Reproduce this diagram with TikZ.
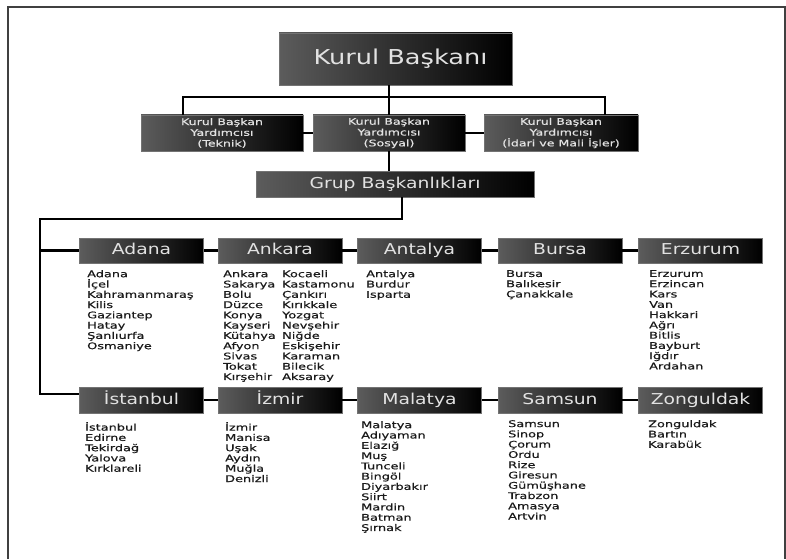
\documentclass[tikz,border=0pt]{standalone}
\usepackage{fontspec}
\setmainfont{DejaVu Sans}[FakeStretch=1.25]
\newfontfamily\listfont{DejaVu Sans}[FakeStretch=1.4,FakeBold=0.6]
\definecolor{boxgray}{HTML}{5C5C5C}
\definecolor{boxtext}{HTML}{E2E2E2}
\definecolor{listtext}{HTML}{1A1A1A}
\tikzset{
  orgbox/.style={draw=black!55, line width=0.6pt, left color=boxgray, right color=black,
    text=boxtext, inner sep=0pt},
  region/.style={orgbox, minimum width=124pt, text height=11pt, text depth=3pt,
    font=\fontsize{15}{18}\selectfont},
  vice/.style={orgbox, minimum width=155pt, minimum height=36pt, align=center,
    font=\listfont\fontsize{9}{10.8}\selectfont},
  liste/.style={anchor=north west, align=left, inner sep=0pt, text=listtext,
    font=\listfont\fontsize{9.2}{10.28}\selectfont},
  link/.style={line width=2.6pt, black}
}
\begin{document}
\begin{tikzpicture}[x=1pt,y=-1pt]
    \useasboundingbox (0,0) rectangle (786,559);
    \draw[black!75, line width=1.2pt] (8,559) -- (8,7) -- (785,7) -- (785,559);

    \begin{scope}
        \node[orgbox, minimum width=233pt, minimum height=52pt,
              font=\fontsize{20.5}{24}\selectfont] (kb) at (395.5,59) {\hspace{10pt}Kurul Başkanı};
        \node[vice, minimum width=162pt] (kby1) at (222,133) {Kurul Başkan\\Yardımcısı\\(Teknik)};
        \node[vice, minimum width=152pt] (kby2) at (389,133) {Kurul Başkan\\Yardımcısı\\(Sosyal)};
        \node[vice, minimum width=154pt] (kby3) at (561,133) {Kurul Başkan\\Yardımcısı\\(İdari ve Mali İşler)};
        \node[orgbox, minimum width=278pt, minimum height=26pt, text height=11pt, text depth=3pt,
              font=\fontsize{15}{18}\selectfont] (grup) at (395,184) {Grup Başkanlıkları};

        \foreach \name/\txt/\x in {adana/Adana/141.5, ankara/Ankara/280,
                antalya/Antalya/419.5, bursa/Bursa/560, erzurum/Erzurum/700.5}
            \node[region, minimum height=25pt] (\name) at (\x,250.5) {\txt};
        \foreach \name/\txt/\x in {istanbul/İstanbul/141.5, izmir/İzmir/280,
                malatya/Malatya/419.5, samsun/Samsun/560, zonguldak/Zonguldak/700.5}
            \node[region, minimum height=26pt] (\name) at (\x,400) {\txt};
    \end{scope}

    % il listeleri
    \node[liste] (l-adana) at (87,270) {Adana\\İçel\\Kahramanmaraş\\Kilis\\Gaziantep\\Hatay\\Şanlıurfa\\Osmaniye};
    \node[liste] (l-ankara1) at (223,270) {Ankara\\Sakarya\\Bolu\\Düzce\\Konya\\Kayseri\\Kütahya\\Afyon\\Sivas\\Tokat\\Kırşehir};
    \node[liste] (l-ankara2) at (282,270) {Kocaeli\\Kastamonu\\Çankırı\\Kırıkkale\\Yozgat\\Nevşehir\\Niğde\\Eskişehir\\Karaman\\Bilecik\\Aksaray};
    \node[liste] (l-antalya) at (366,270) {Antalya\\Burdur\\Isparta};
    \node[liste] (l-bursa) at (506,270) {Bursa\\Balıkesir\\Çanakkale};
    \node[liste] (l-erzurum) at (649,270) {Erzurum\\Erzincan\\Kars\\Van\\Hakkari\\Ağrı\\Bitlis\\Bayburt\\Iğdır\\Ardahan};
    \node[liste] (l-istanbul) at (85,422) {İstanbul\\Edirne\\Tekirdağ\\Yalova\\Kırklareli};
    \node[liste] (l-izmir) at (225,422) {İzmir\\Manisa\\Uşak\\Aydın\\Muğla\\Denizli};
    \node[liste] (l-malatya) at (361,421) {Malatya\\Adıyaman\\Elazığ\\Muş\\Tunceli\\Bingöl\\Diyarbakır\\Siirt\\Mardin\\Batman\\Şırnak};
    \node[liste] (l-samsun) at (508,420) {Samsun\\Sinop\\Çorum\\Ordu\\Rize\\Giresun\\Gümüşhane\\Trabzon\\Amasya\\Artvin};
    \node[liste] (l-zonguldak) at (648,420) {Zonguldak\\Bartın\\Karabük};

    \coordinate (bl) at (183,97);
    \coordinate (br) at (605,97);
    \coordinate (gb) at (402,219);
    \coordinate (trunk) at (40,219);
    \coordinate (tb) at (40,394);

    \begin{scope}[link]
        \draw (kb.south -| kby2.north) -- (kby2.north);
        \draw (kby1.north -| bl) |- (br) -- (kby3.north -| br);
        \draw (kby1) -- (kby2);
        \draw (kby2) -- (kby3);
        \draw (kby2.south) -- (grup.north -| kby2.south);
        \draw (grup.south -| gb) -- (gb) -- (trunk) -- (tb) -- (tb -| istanbul.west);
        \draw (trunk |- adana) -- (adana);
        \foreach \a/\b in {adana/ankara, ankara/antalya, antalya/bursa, bursa/erzurum,
                istanbul/izmir, izmir/malatya, malatya/samsun, samsun/zonguldak}
            \draw (\a) -- (\b);
    \end{scope}
\end{tikzpicture}
\end{document}
